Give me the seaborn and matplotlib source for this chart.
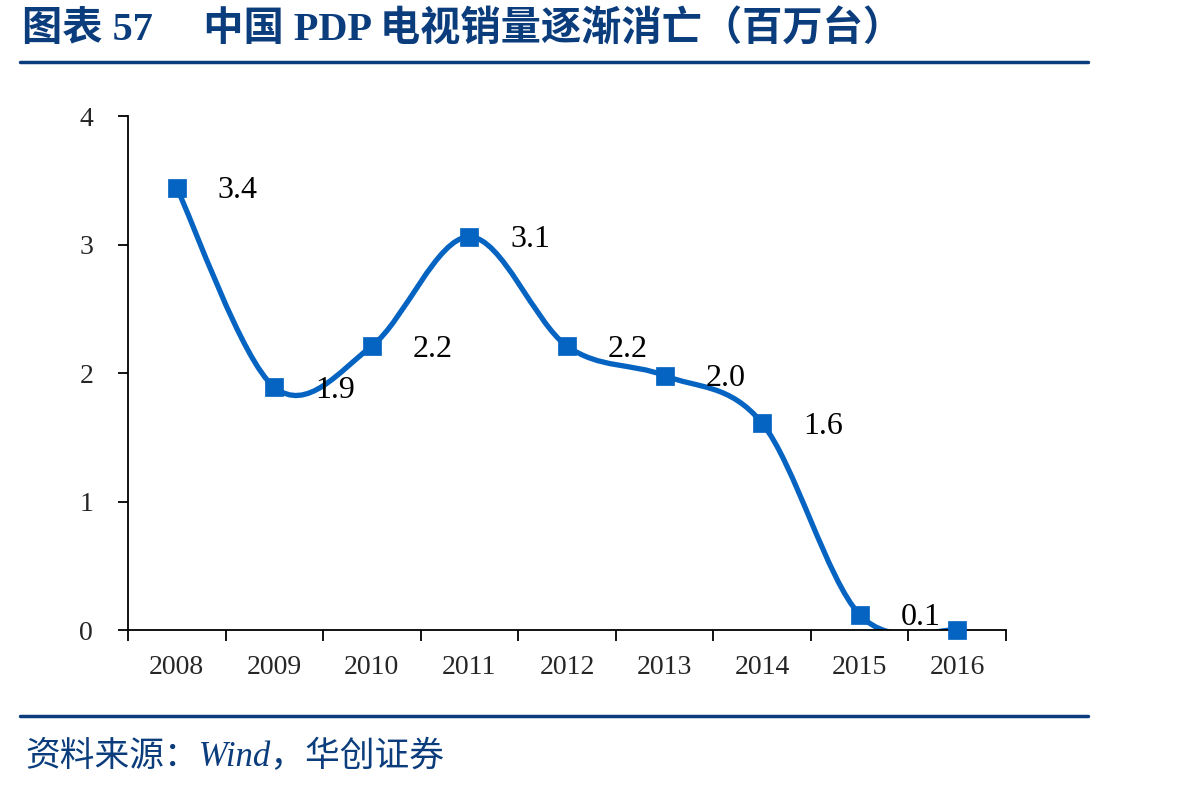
import numpy as np
import pandas as pd
import matplotlib
matplotlib.use('Agg')
import matplotlib.pyplot as plt
from matplotlib.path import Path
from matplotlib.patches import PathPatch
import seaborn as sns

# chart data
years = ['2008', '2009', '2010', '2011', '2012', '2013', '2014', '2015', '2016']
sales = [3.44, 1.89, 2.21, 3.06, 2.21, 1.98, 1.61, 0.12, 0.0]
labels = ['3.4', '1.9', '2.2', '3.1', '2.2', '2.0', '1.6', '0.1', '']
y_ticks = [0, 1, 2, 3, 4]

title = '图表 57 　中国 PDP 电视销量逐渐消亡（百万台）'
source = '资料来源：Wind，华创证券'

DARK = '#0B3D7D'
LINE = '#0563C1'

sns.set_theme(style='white')
plt.rcParams['font.family'] = ['Liberation Serif', 'Noto Sans CJK SC']

fig = plt.figure(figsize=(11.98, 7.92), dpi=100)
ax = fig.add_axes([0.1068, 0.2045, 0.7329, 0.649])

df = pd.DataFrame({'year': years, 'sales': sales})
x = np.arange(len(years))

# smoothed line (Catmull-Rom -> cubic bezier, like Excel's smooth line)
pts = np.column_stack([x, df['sales'].values]).astype(float)
padded = np.vstack([pts[0], pts, pts[-1]])
verts = [tuple(pts[0])]
codes = [Path.MOVETO]
for i in range(len(pts) - 1):
    p0, p1, p2, p3 = padded[i], padded[i + 1], padded[i + 2], padded[i + 3]
    c1 = p1 + (p2 - p0) / 6.0
    c2 = p2 - (p3 - p1) / 6.0
    verts += [tuple(c1), tuple(c2), tuple(p2)]
    codes += [Path.CURVE4] * 3
ax.add_patch(PathPatch(Path(verts, codes), facecolor='none', edgecolor=LINE,
                       lw=3.8, capstyle='round', zorder=2))

sns.scatterplot(x=x, y=df['sales'], marker='s', s=150, color=LINE,
                edgecolor=LINE, linewidth=0.5, ax=ax, zorder=3, legend=False,
                clip_on=False)

for xi, yi, lab in zip(x, sales, labels):
    if lab:
        ax.annotate(lab, (xi, yi), xytext=(41, -3), textcoords='offset pixels',
                    ha='left', va='center', fontsize=23, color='black')

ax.set_xlim(-0.5, len(years) - 0.5)
ax.set_ylim(0, 4)
ax.set_yticks(y_ticks)
ax.set_yticklabels([str(v) for v in y_ticks], fontsize=20)
ax.set_xticks(x)
ax.set_xticklabels(years, fontsize=20)
ax.set_xticks(np.arange(-0.5, len(years)), minor=True)
ax.tick_params(axis='x', which='major', length=0, pad=18, bottom=True)
ax.tick_params(axis='x', which='minor', length=8, width=1.3, color='black',
               direction='out', bottom=True)
ax.tick_params(axis='y', which='major', length=7, width=1.3, color='black',
               direction='out', pad=18, left=True)
ax.set_xlabel('')
ax.set_ylabel('')
for side in ['top', 'right']:
    ax.spines[side].set_visible(False)
for side in ['left', 'bottom']:
    ax.spines[side].set_color('black')
    ax.spines[side].set_linewidth(1.3)
ax.grid(False)

# title, rules and source
fig.text(22 / 1198, 1 - 30 / 792, title, fontsize=29, fontweight='bold',
         color=DARK, ha='left', va='center')
fig.add_artist(plt.Line2D([20 / 1198, 1088 / 1198], [1 - 62 / 792] * 2,
                          color=DARK, lw=2.5))
fig.add_artist(plt.Line2D([20 / 1198, 1088 / 1198], [1 - 716 / 792] * 2,
                          color=DARK, lw=2.5))
fig.text(25 / 1198, 1 - 758 / 792, source, fontsize=25, fontstyle='italic',
         color=DARK, ha='left', va='center')

fig.savefig('out.png', dpi=100)
